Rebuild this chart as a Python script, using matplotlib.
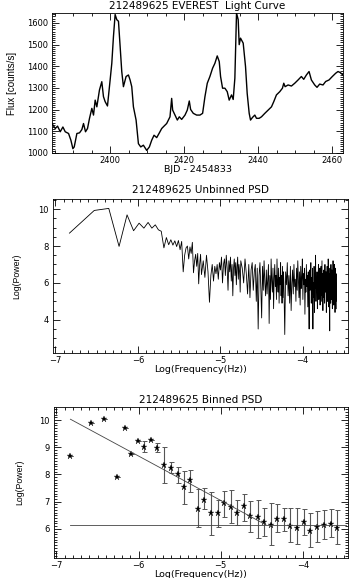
import numpy as np
import matplotlib
matplotlib.use("Agg")
import matplotlib.pyplot as plt
from matplotlib.ticker import MultipleLocator, FixedLocator

plt.rcParams['font.family'] = ['DejaVu Sans']

# --- light curve ---
lc_time = [2384.28, 2385.18, 2385.80, 2386.52, 2387.24, 2387.87, 2388.77, 2389.40, 2389.94, 2390.30,
           2391.02, 2391.73, 2392.36, 2392.81, 2393.35, 2393.89, 2394.43, 2395.06, 2395.51, 2395.96,
           2396.41, 2397.12, 2397.75, 2398.20, 2398.65, 2399.28, 2400.00, 2400.45, 2400.90, 2401.35,
           2401.80, 2402.25, 2402.70, 2403.14, 2403.59, 2404.31, 2404.94, 2405.39, 2405.84, 2406.29,
           2407.01, 2407.64, 2408.27, 2408.98, 2409.88, 2410.60, 2411.23, 2411.86, 2412.58, 2413.30,
           2413.93, 2414.56, 2415.27, 2416.17, 2416.62, 2416.89, 2417.52, 2418.15, 2418.69, 2419.32,
           2420.22, 2420.84, 2421.38, 2421.74, 2422.46, 2423.36, 2424.26, 2424.98, 2425.61, 2426.24,
           2426.95, 2427.67, 2428.30, 2428.93, 2429.47, 2429.83, 2430.37, 2431.00, 2431.63, 2432.16,
           2432.79, 2433.24, 2433.69, 2434.14, 2434.59, 2434.86, 2435.22, 2435.94, 2436.57, 2437.02,
           2437.56, 2437.92, 2438.45, 2439.08, 2439.53, 2440.25, 2440.88, 2441.78, 2442.68, 2443.58,
           2444.20, 2444.92, 2445.82, 2446.54, 2446.90, 2447.26, 2448.07, 2448.97, 2449.87, 2450.76,
           2451.66, 2452.29, 2453.01, 2453.73, 2454.36, 2455.26, 2455.88, 2456.60, 2457.50, 2458.22,
           2459.12, 2460.02, 2460.92, 2461.55, 2462.17, 2462.89]
lc_flux = [1136, 1113, 1124, 1098, 1120, 1098, 1090, 1059, 1020, 1028,
           1090, 1093, 1108, 1136, 1098, 1113, 1160, 1206, 1175, 1244,
           1213, 1291, 1329, 1260, 1237, 1217, 1337, 1414, 1538, 1639,
           1615, 1608, 1492, 1376, 1306, 1353, 1360, 1337, 1306, 1213,
           1152, 1043, 1028, 1036, 1012, 1028, 1059, 1082, 1071, 1093,
           1113, 1124, 1136, 1167, 1252, 1198, 1175, 1152, 1167, 1155,
           1175, 1198, 1240, 1201, 1183, 1175, 1175, 1183, 1260, 1322,
           1353, 1391, 1414, 1448, 1422, 1353, 1299, 1299, 1283, 1244,
           1268, 1247, 1345, 1646, 1615, 1500, 1530, 1507, 1399, 1275,
           1183, 1152, 1164, 1175, 1160, 1160, 1167, 1183, 1198, 1213,
           1237, 1268, 1283, 1299, 1322, 1306, 1314, 1309, 1322, 1337,
           1353, 1340, 1360, 1376, 1337, 1314, 1303, 1318, 1314, 1330,
           1337, 1353, 1368, 1376, 1371, 1360]

# --- unbinned PSD: log power at frequency index k (f = k / T) ---
T_days = 78.3
psd_k1 = [8.70, 9.93, 10.04, 7.98, 9.69, 8.83, 9.24, 8.97, 9.28, 8.97,
          9.15, 8.88, 8.80, 7.90, 8.46, 8.07, 8.34, 8.05, 8.28, 7.97,
          8.30, 7.80, 8.25, 6.60, 7.50, 7.90, 8.00, 7.30, 7.95, 7.60,
          8.20, 6.55, 7.20, 7.55, 6.90, 7.60, 5.95, 7.00, 7.55, 6.45]      # k = 1..40
psd_k2 = [7.2, 6.3, 7.5, 6.6, 4.95, 6.4, 7.0, 6.1, 6.9, 6.5,
          7.0, 6.2, 7.1, 6.7, 7.4, 6.0, 7.0, 7.3, 6.4, 7.5,
          6.8, 5.6, 7.2, 6.6, 7.4, 6.1, 7.0, 5.3, 6.8, 7.3,
          6.4, 7.1, 5.9, 6.9, 7.4, 6.2, 7.0, 6.6, 5.5, 7.2]                 # k = 42..120 step 2
psd_k5 = [6.8, 6.0, 7.3, 6.5, 5.4, 7.0, 5.2, 6.7, 7.1, 5.6,
          6.6, 7.0, 5.0, 6.8, 3.5, 6.4, 7.1, 5.7, 4.1, 6.9,
          5.6, 7.2, 6.0, 5.3, 6.7, 5.4, 6.2, 7.0, 3.8, 6.4,
          5.1, 7.3, 6.1, 5.5, 6.8, 4.6, 6.3, 7.0, 5.8, 6.4,
          5.1, 7.3, 6.1, 5.5, 6.8, 4.9, 6.3, 5.9, 7.1, 5.3,
          6.4, 4.9, 6.9, 5.2, 6.6, 6.0]                                     # k = 125..400 step 5
psd_k10 = [3.2, 6.6, 5.9, 7.1, 5.3, 6.4, 4.9, 6.9, 4.5, 6.0,
           6.7, 5.4, 7.0, 5.8, 6.2, 5.0, 6.8, 5.6, 7.2, 6.1,
           5.2, 6.6, 4.8, 6.9, 5.7, 6.3, 7.3, 5.1, 6.5, 5.9,
           6.8, 4.3, 6.2, 5.5, 7.0, 5.8, 6.4, 4.7, 6.6, 5.3,
           3.5, 6.7, 5.6, 6.1, 7.1, 4.9, 6.3, 5.4, 6.8, 3.5,
           6.0, 5.2, 6.9, 4.4, 6.5, 5.7, 7.5, 5.0, 6.2, 5.5,
           6.6, 4.6, 6.1, 5.8, 7.0, 5.1, 6.4, 5.6, 6.8, 4.8,
           6.3, 5.4, 6.9, 5.0, 6.1, 7.2, 5.3, 6.5, 4.5, 6.0,
           5.7, 6.7, 5.2, 6.4, 4.9, 7.0, 5.5, 6.2, 5.8, 6.6,
           4.4, 6.1, 5.6, 6.9, 5.0, 6.3, 5.4, 7.3, 5.9, 4.7,
           6.5, 5.3, 6.0, 3.4, 6.8, 5.5, 6.2, 4.9, 7.0, 5.7,
           6.4, 5.1, 6.7, 5.8, 4.6, 6.3, 5.5, 7.2, 5.2, 6.1,
           4.8, 6.6, 5.9, 7.0, 5.4, 6.2, 4.4, 6.8, 5.6, 6.0,
           5.0, 6.5, 4.6]                                                    # k = 410..1730 step 10

k_all = np.concatenate([np.arange(1, 1 + len(psd_k1)),
                        np.arange(42, 42 + 2 * len(psd_k2), 2),
                        np.arange(125, 125 + 5 * len(psd_k5), 5),
                        np.arange(410, 410 + 10 * len(psd_k10), 10)])
psd_all = np.array(psd_k1 + psd_k2 + psd_k5 + psd_k10)
logf_all = np.log10(k_all / (T_days * 86400.0))

# --- binned PSD ---
bin_logf = [-6.83, -6.58, -6.42, -6.26, -6.17, -6.09, -6.01, -5.93, -5.85, -5.77,
            -5.69, -5.60, -5.52, -5.45, -5.37, -5.28, -5.20, -5.12, -5.03, -4.96,
            -4.88, -4.80, -4.72, -4.64, -4.55, -4.47, -4.39, -4.31, -4.23, -4.15,
            -4.07, -3.99, -3.91, -3.83, -3.74, -3.66, -3.58]
bin_pow = [8.66, 9.90, 10.02, 7.91, 9.70, 8.77, 9.22, 9.01, 9.26, 8.99,
           8.33, 8.24, 8.00, 7.55, 7.79, 6.74, 7.07, 6.57, 6.60, 6.96,
           6.81, 6.60, 6.84, 6.48, 6.42, 6.26, 6.14, 6.36, 6.36, 6.12,
           6.02, 6.24, 5.94, 6.06, 6.14, 6.18, 6.04]
bin_hi = [8.66, 9.90, 10.02, 7.91, 9.70, 8.77, 9.22, 9.22, 9.26, 9.14,
          9.01, 8.45, 8.29, 8.11, 8.17, 7.46, 7.49, 7.37, 7.07, 7.40,
          7.43, 7.07, 7.29, 7.01, 7.07, 6.78, 6.96, 6.90, 6.78, 6.78,
          6.78, 6.72, 6.60, 6.66, 6.69, 6.72, 6.68]
bin_lo = [8.66, 9.90, 10.02, 7.91, 9.70, 8.77, 9.22, 8.83, 9.26, 8.83,
          7.67, 8.05, 7.67, 6.90, 7.37, 6.06, 6.72, 5.76, 6.06, 6.42,
          6.21, 6.16, 6.30, 5.90, 5.67, 5.74, 5.40, 5.88, 5.94, 5.52,
          5.46, 5.76, 5.34, 5.52, 5.64, 5.70, 5.43]

# fitted red-noise slope and white-noise level
fit_x0, fit_y0 = -6.83, 10.03
fit_slope = -1.63
white_level = 6.15
white_x = [-6.83, -3.47]

fig = plt.figure(figsize=(3.55, 5.78), dpi=100)
ax1 = fig.add_axes([0.1465, 0.7353, 0.8197, 0.2422])
ax2 = fig.add_axes([0.1493, 0.3893, 0.8310, 0.2664])
ax3 = fig.add_axes([0.1521, 0.0346, 0.8280, 0.2613])

tick_fs = 6
lab_font = ['Liberation Sans', 'DejaVu Sans']


def idl_axes(ax):
    ax.tick_params(which='both', direction='in', top=True, right=True,
                   labelsize=tick_fs, width=0.6, pad=3)
    ax.tick_params(which='major', length=5)
    ax.tick_params(which='minor', length=2.5)
    ax.tick_params(axis='x', pad=2.5)
    for s in ax.spines.values():
        s.set_linewidth(0.6)


# light curve
ax1.plot(lc_time, lc_flux, color='black', lw=1.0)
ax1.set_xlim(2384.3, 2462.9)
ax1.set_ylim(1000, 1646)
ax1.xaxis.set_major_locator(MultipleLocator(20))
ax1.xaxis.set_minor_locator(MultipleLocator(5))
ax1.yaxis.set_major_locator(MultipleLocator(100))
ax1.yaxis.set_minor_locator(MultipleLocator(10))
idl_axes(ax1)
ax1.set_title('212489625 EVEREST  Light Curve', fontsize=7.5, pad=3)
ax1.set_xlabel('BJD - 2454833', fontsize=6.8, labelpad=0)
ax1.set_ylabel('Flux [counts/s]', fontsize=7, family=lab_font, labelpad=7)

# unbinned PSD
ax2.plot(logf_all, psd_all, color='black', lw=0.6)
ax2.set_xlim(-7.03, -3.45)
ax2.set_ylim(2.2, 10.55)
ax2.xaxis.set_major_locator(MultipleLocator(1))
ax2.xaxis.set_minor_locator(MultipleLocator(0.1))
ax2.yaxis.set_major_locator(MultipleLocator(2))
ax2.yaxis.set_minor_locator(MultipleLocator(0.5))
idl_axes(ax2)
ax2.set_title('212489625 Unbinned PSD', fontsize=7.5, pad=4)
ax2.set_xlabel('Log(Frequency(Hz))', fontsize=6.8, labelpad=0)
ax2.set_ylabel('Log(Power)', fontsize=6.3, family=lab_font, labelpad=12)

# binned PSD
err_lo = np.array(bin_pow) - np.array(bin_lo)
err_hi = np.array(bin_hi) - np.array(bin_pow)
ax3.errorbar(bin_logf, bin_pow, yerr=[err_lo, err_hi], fmt='none',
             ecolor='#555555', elinewidth=0.8, capsize=1.8, capthick=0.7)
ax3.plot(bin_logf, bin_pow, linestyle='none', marker='*', color='black', ms=4.5,
         markeredgewidth=0.2)
x_break = fit_x0 + (white_level - fit_y0) / fit_slope
ax3.plot([fit_x0, x_break], [fit_y0, white_level], color='#444444', lw=0.6)
ax3.plot(white_x, [white_level, white_level], color='#444444', lw=0.6)
ax3.set_xlim(-7.03, -3.45)
ax3.set_ylim(4.93, 10.48)
ax3.xaxis.set_major_locator(MultipleLocator(1))
ax3.xaxis.set_minor_locator(MultipleLocator(0.1))
ax3.yaxis.set_major_locator(FixedLocator([6, 7, 8, 9, 10]))
ax3.yaxis.set_minor_locator(MultipleLocator(0.1))
idl_axes(ax3)
ax3.set_title('212489625 Binned PSD', fontsize=7.5, pad=3)
ax3.set_xlabel('Log(Frequency(Hz))', fontsize=6.8, labelpad=0)
ax3.set_ylabel('Log(Power)', fontsize=6.3, family=lab_font, labelpad=11)

fig.savefig('out.png', dpi=100)
